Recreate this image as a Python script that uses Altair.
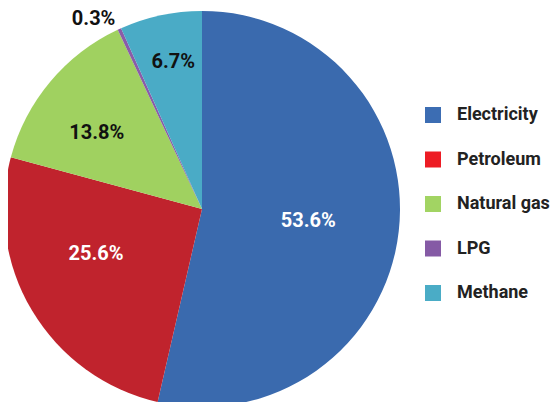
import altair as alt
import pandas as pd

categories = ["Electricity", "Petroleum", "Natural gas", "LPG", "Methane"]
shares = [53.6, 25.6, 13.8, 0.3, 6.7]
labels = ["53.6%", "25.6%", "13.8%", "0.3%", "6.7%"]
pie_colors = ["#3a6aae", "#c0232d", "#a0d160", "#8a5ca8", "#4aabc6"]
legend_colors = ["#3c6db3", "#ed1c24", "#a2d463", "#855aa5", "#4aacc6"]
label_colors = ["#ffffff", "#ffffff", "#111111", "#111111", "#111111"]
label_radius = [107, 115, 130, 219, 150]
label_shift_deg = [0, 8, -4, -5, 1]

df = pd.DataFrame({
    "cat": categories,
    "share": shares,
    "label": labels,
    "order": list(range(len(categories))),
    "lcol": label_colors,
    "lr": label_radius,
    "shift": label_shift_deg,
})

CX, CY, R = 194, 201, 198

base = alt.Chart(df)

pie = base.mark_arc(radius=R).encode(
    theta=alt.Theta("share:Q", stack=True),
    order=alt.Order("order:Q"),
    color=alt.Color("cat:N", scale=alt.Scale(domain=categories, range=pie_colors), legend=None),
    x=alt.value(CX),
    y=alt.value(CY),
)

theta_scale = alt.Scale(domain=[0, 100], range=[0, 6.283185307179586])

txt = base.transform_window(
    cum="sum(share)", sort=[alt.SortField("order")]
).transform_calculate(
    mid="datum.cum - datum.share / 2 + datum.shift / 3.6"
).mark_text(font="Roboto", fontWeight="bold", fontSize=20, align="center", baseline="middle").encode(
    theta=alt.Theta("mid:Q", scale=theta_scale, stack=None),
    radius=alt.Radius("lr:Q", scale=None),
    text="label:N",
    color=alt.Color("lcol:N", scale=None),
    x=alt.value(CX),
    y=alt.value(CY),
)

yscale = alt.Scale(domain=categories, range=[107, 285], padding=0)

leg_sq = base.mark_square(size=256, opacity=1).encode(
    x=alt.value(425),
    y=alt.Y("cat:N", scale=yscale, axis=None),
    fill=alt.Fill("cat:N", scale=alt.Scale(domain=categories, range=legend_colors), legend=None),
)

leg_txt = base.mark_text(font="Roboto", fontWeight="bold", fontSize=18, align="left", baseline="middle", color="#222222").encode(
    x=alt.value(449),
    y=alt.Y("cat:N", scale=yscale, axis=None),
    text="cat:N",
)

chart = alt.layer(pie, txt, leg_sq, leg_txt).resolve_scale(color="independent").properties(
    width=542, height=394, padding=0, autosize=alt.AutoSizeParams(type="none"),
).configure_view(stroke=None)

chart.save("out.html", embed_options={"renderer": "svg", "actions": False})
